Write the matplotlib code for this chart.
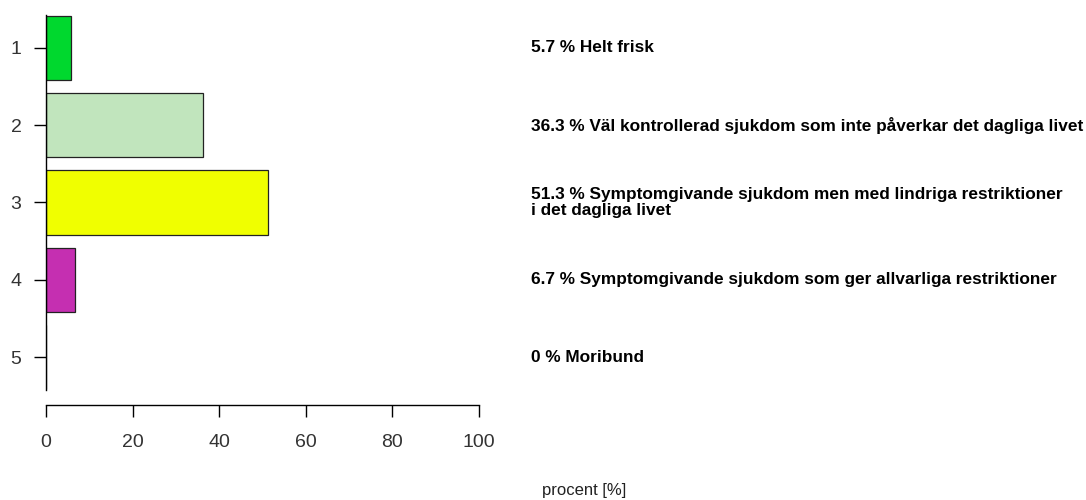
import matplotlib
matplotlib.use("Agg")
import matplotlib.pyplot as plt
import matplotlib.transforms as mtransforms

# data
categories = [1, 2, 3, 4, 5]
percent = [5.7, 36.3, 51.3, 6.7, 0]
names = ["Helt frisk",
         "Väl kontrollerad sjukdom som inte påverkar det dagliga livet",
         "Symptomgivande sjukdom men med lindriga restriktioner\ni det dagliga livet",
         "Symptomgivande sjukdom som ger allvarliga restriktioner",
         "Moribund"]
colors = ["#00d82e", "#c1e5bd", "#f0ff00", "#c52fb1", "#ffffff"]
xticks = [0, 20, 40, 60, 80, 100]

plt.rcParams['font.family'] = ['Liberation Sans', 'DejaVu Sans']

fig = plt.figure(figsize=(10.86, 5.0), dpi=100)
ax = fig.add_axes([46/1086, 110/500, 433/1086, 375/500])

ax.barh(categories, percent, height=1/1.2, color=colors,
        edgecolor="#222222", linewidth=0.9, zorder=2)

ax.set_xlim(0, 100)
ax.set_ylim(5.427, 0.573)

for s in ["top", "right"]:
    ax.spines[s].set_visible(False)
ax.spines["left"].set_linewidth(1.0)
ax.spines["bottom"].set_linewidth(1.0)
ax.spines["bottom"].set_position(("outward", 10.8))

ax.set_yticks(categories)
ax.set_yticklabels([str(c) for c in categories])
ax.set_xticks(xticks)
ax.set_xticklabels([str(t) for t in xticks])
ax.tick_params(axis="y", length=8.6, width=1.0, pad=9, labelsize=14, labelcolor="#333333")
ax.tick_params(axis="x", length=8.6, width=1.0, pad=12, labelsize=14, labelcolor="#333333")

# labels on the right side
trans = mtransforms.blended_transform_factory(fig.transFigure, ax.transData)
for c, v, n in zip(categories, percent, names):
    ax.text(531/1086, c, f"{v:g} % {n}", transform=trans, ha="left", va="center",
            fontsize=12.4, fontweight="bold", clip_on=False, linespacing=1.0)

fig.text(584/1086, 1 - 491/500, "procent [%]", ha="center", va="center",
         fontsize=12, color="#222222")

fig.savefig("out.png", dpi=100)
